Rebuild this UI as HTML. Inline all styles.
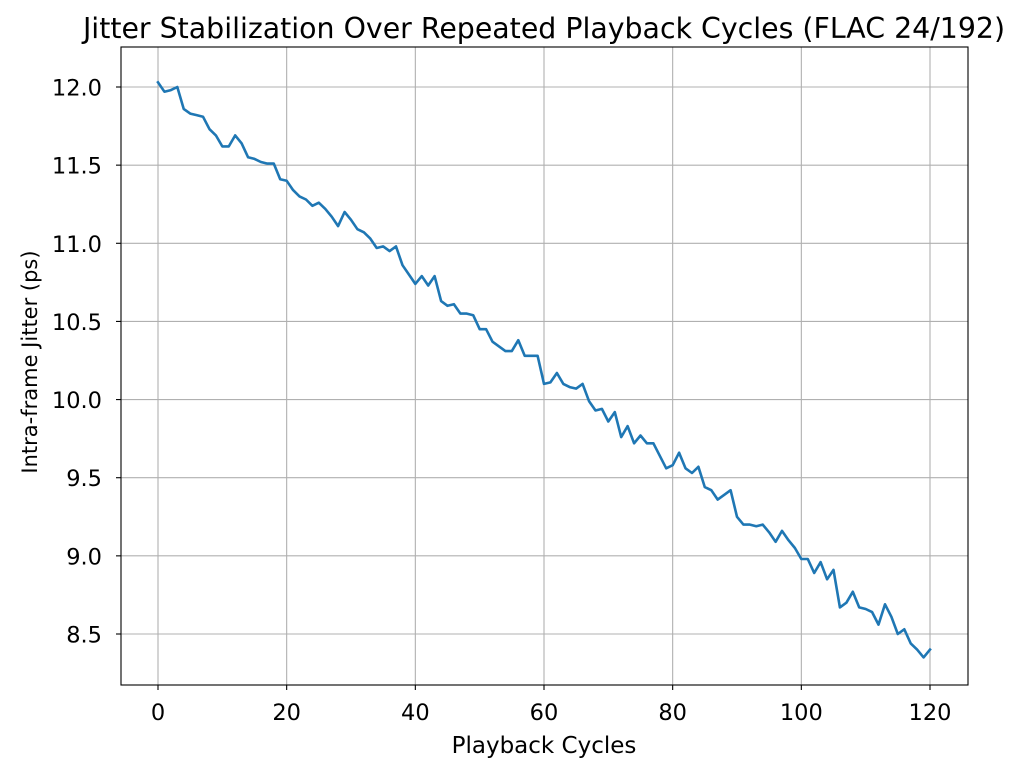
<!DOCTYPE html>
<html><head><meta charset="utf-8"><style>
body{margin:0;background:#fff}
svg text{font-family:"DejaVu Sans","Liberation Sans",sans-serif;fill:#000}
</style></head><body>
<svg id="s" width="1024" height="776" xmlns="http://www.w3.org/2000/svg">
<rect width="1024" height="776" fill="#fff"/>
<g id="grid" stroke="#b0b0b0" stroke-width="1.1"></g>
<polyline id="line" fill="none" stroke="#1f77b4" stroke-width="2.6" stroke-linejoin="round" stroke-linecap="square"/>
<rect x="121" y="47" width="847" height="638" fill="none" stroke="#000" stroke-width="1.1"/>
<g id="ticks" stroke="#000" stroke-width="1.1"></g>
<g id="labels" font-size="22.5"></g>
<text x="544" y="38" font-size="28.4" text-anchor="middle">Jitter Stabilization Over Repeated Playback Cycles (FLAC 24/192)</text>
<text x="544" y="753" font-size="23" text-anchor="middle">Playback Cycles</text>
<text x="0" y="0" font-size="21" text-anchor="middle" transform="translate(37,362) rotate(-90)">Intra-frame Jitter (ps)</text>
</svg>
<script>
var d=[12.03,11.97,11.98,12.00,11.86,11.83,11.82,11.81,11.73,11.69,11.62,11.62,11.69,11.64,11.55,11.54,11.52,11.51,11.51,11.41,11.40,11.34,11.30,11.28,11.24,11.26,11.22,11.17,11.11,11.20,11.15,11.09,11.07,11.03,10.97,10.98,10.95,10.98,10.86,10.80,10.74,10.79,10.73,10.79,10.63,10.60,10.61,10.55,10.55,10.54,10.45,10.45,10.37,10.34,10.31,10.31,10.38,10.28,10.28,10.28,10.10,10.11,10.17,10.10,10.08,10.07,10.10,9.99,9.93,9.94,9.86,9.92,9.76,9.83,9.72,9.77,9.72,9.72,9.64,9.56,9.58,9.66,9.56,9.53,9.57,9.44,9.42,9.36,9.39,9.42,9.25,9.20,9.20,9.19,9.20,9.15,9.09,9.16,9.10,9.05,8.98,8.98,8.89,8.96,8.85,8.91,8.67,8.70,8.77,8.67,8.66,8.64,8.56,8.69,8.61,8.50,8.53,8.44,8.40,8.35,8.40];
function X(v){return 158+v*(930-158)/120}
function Y(v){return 87+(12-v)*(634-87)/3.5}
var ns="http://www.w3.org/2000/svg";
function el(p,t,a,txt){var e=document.createElementNS(ns,t);for(var k in a)e.setAttribute(k,a[k]);if(txt!=null)e.textContent=txt;document.getElementById(p).appendChild(e);}
document.getElementById("line").setAttribute("points",d.map(function(v,i){return X(i).toFixed(1)+","+Y(v).toFixed(1)}).join(" "));
for(var x=0;x<=120;x+=20){var px=X(x);el("grid","line",{x1:px,x2:px,y1:47,y2:685});el("ticks","line",{x1:px,x2:px,y1:685,y2:690});el("labels","text",{x:px,y:720,"text-anchor":"middle"},String(x));}
for(var i=0;i<8;i++){var v=8.5+i*0.5,py=Y(v);el("grid","line",{x1:121,x2:968,y1:py,y2:py});el("ticks","line",{x1:116,x2:121,y1:py,y2:py});el("labels","text",{x:102,y:py+8.5,"text-anchor":"end"},v.toFixed(1));}
</script>
</body></html>
